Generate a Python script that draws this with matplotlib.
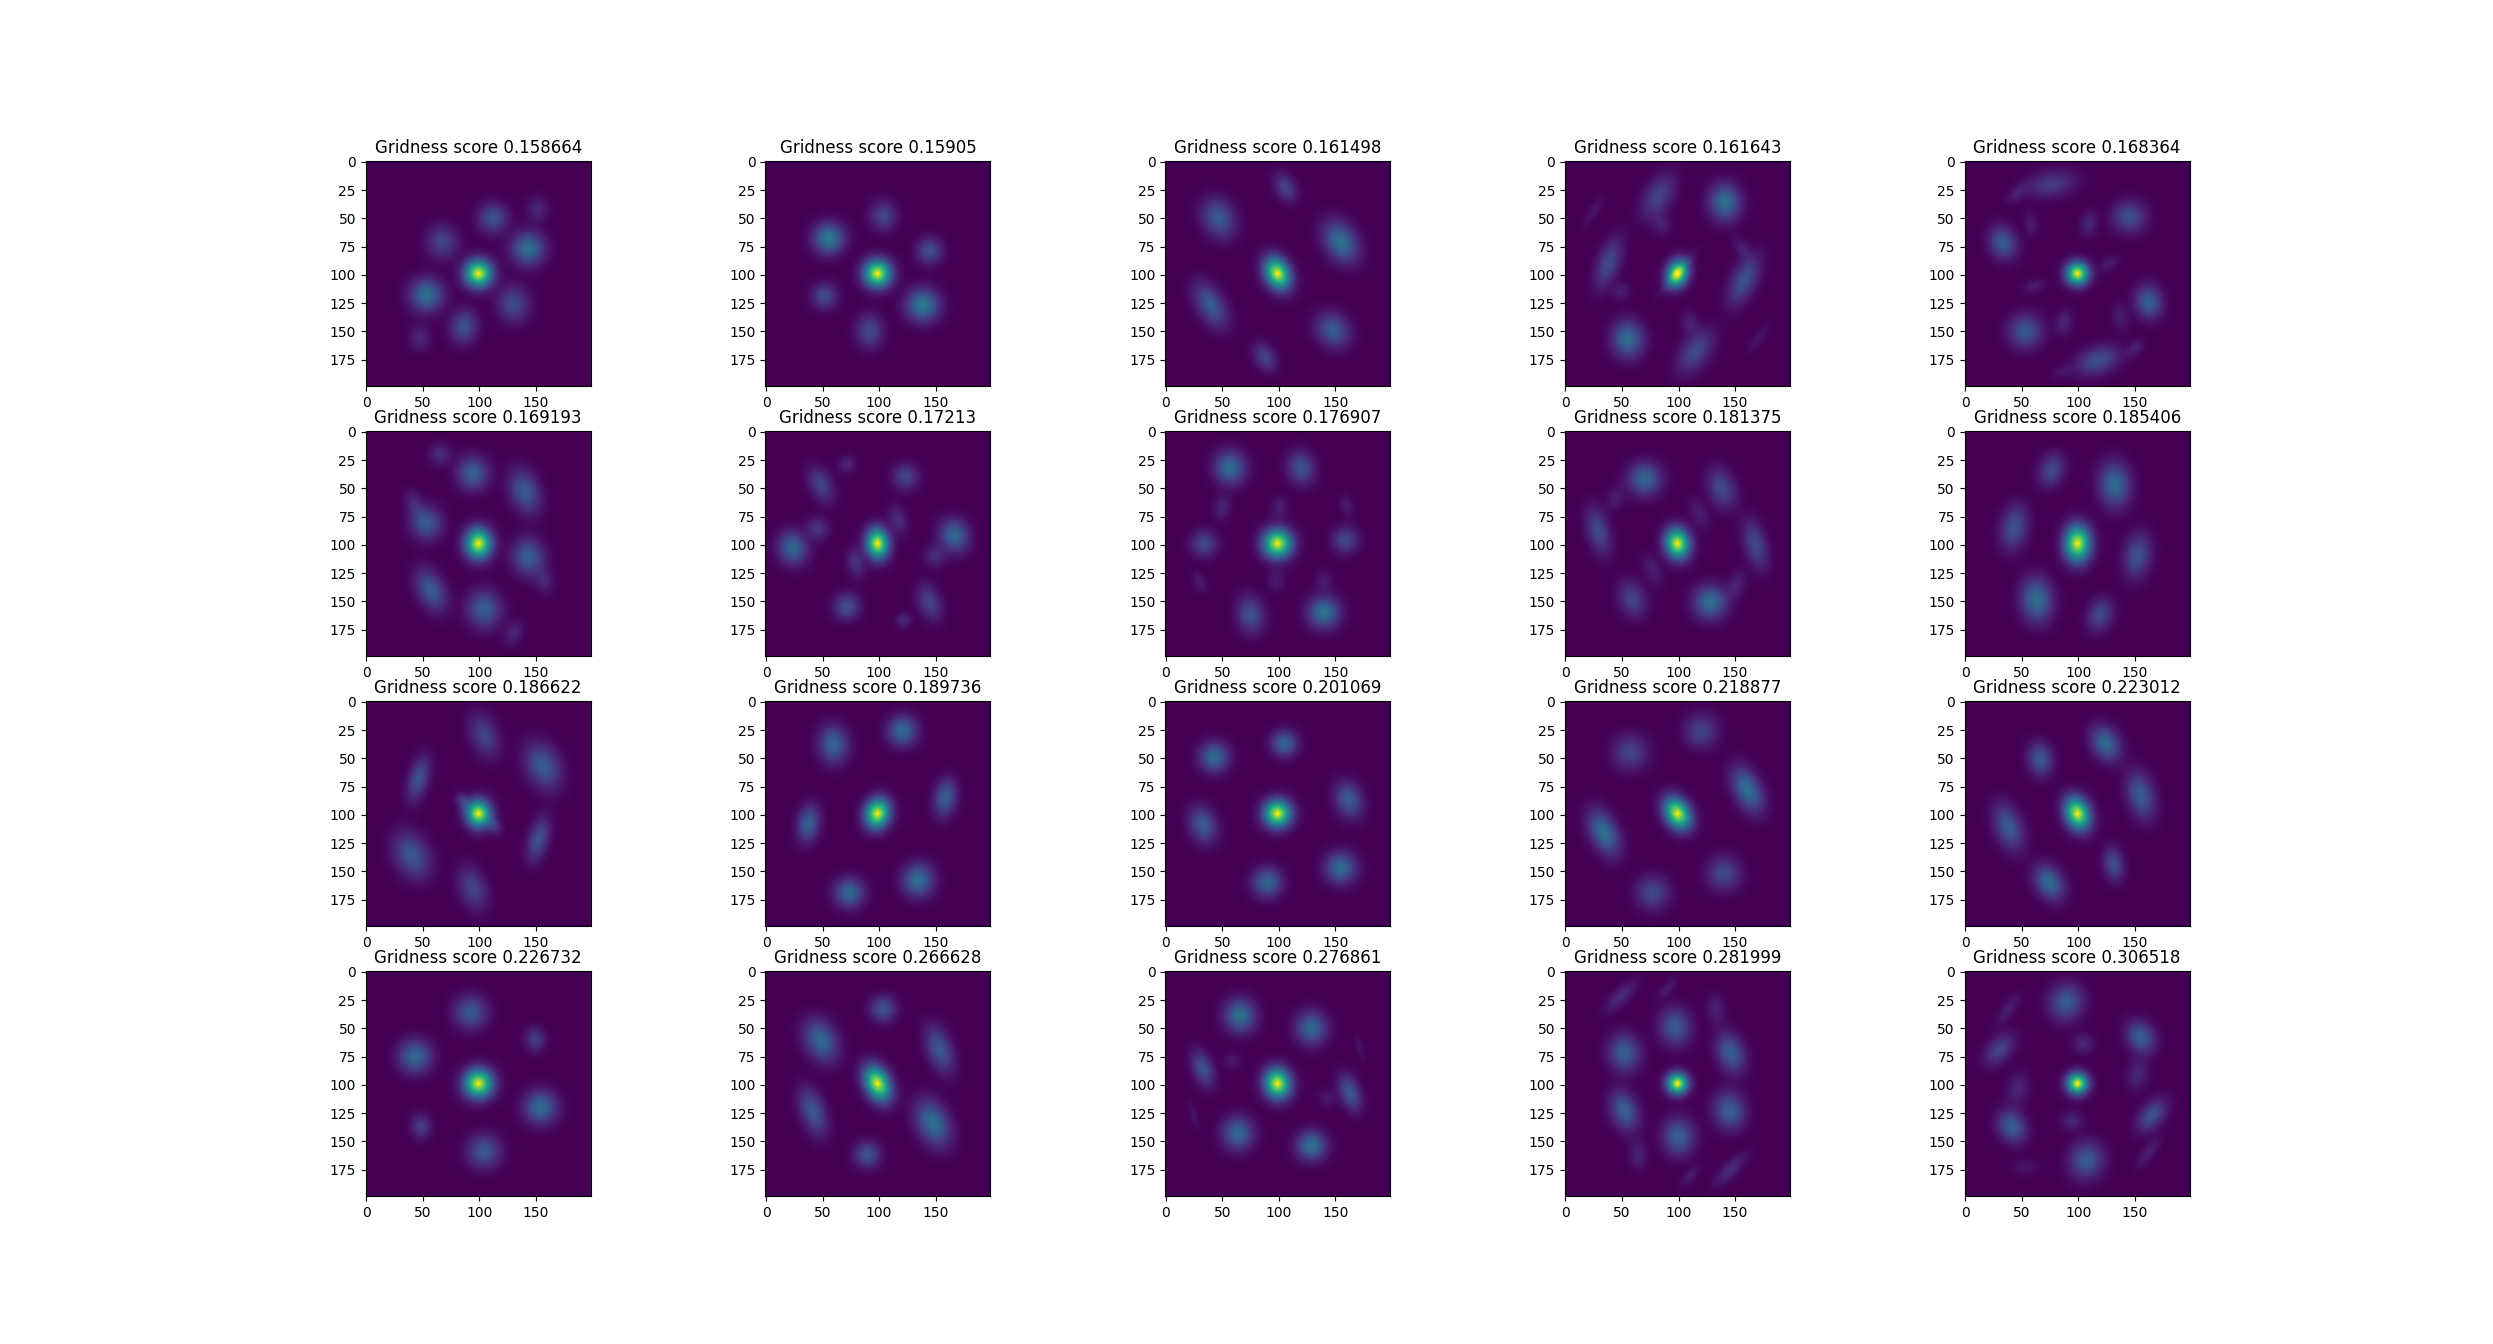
import matplotlib
matplotlib.use('Agg')
import matplotlib.pyplot as plt
import numpy as np

scores = ['0.158664', '0.15905', '0.161498', '0.161643', '0.168364',
          '0.169193', '0.17213', '0.176907', '0.181375', '0.185406',
          '0.186622', '0.189736', '0.201069', '0.218877', '0.223012',
          '0.226732', '0.266628', '0.276861', '0.281999', '0.306518']

# central peak of each panel: long sigma, short sigma, angle
centres = [(9, 8, 90), (9, 8.5, 90), (11, 7, 65), (9, 6, -70), (7.5, 7, 0),
           (10, 7.5, 90), (10, 6.5, 85), (9.5, 8.5, 90), (10, 7, 80), (12, 7.5, 90),
           (9, 7, 85), (10, 7, -75), (9, 8, 0), (11, 7, 60), (11, 7, 70),
           (9.5, 9, 90), (12, 7, 65), (10, 7.5, 80), (7, 6.5, 0), (7, 7, 0)]

# fields: x, y, height, long sigma, short sigma, angle
# angle counts from +x towards +y (image y points down)
p01 = [(112, 50, .25, 8, 7, 90), (151, 42, .1, 7, 5, 90), (67, 71, .2, 9, 7, 70), (143, 77, .36, 9, 8.5, 90),
       (53, 118, .36, 9, 8.5, 90), (130, 126, .22, 10, 7, 80), (86, 146, .25, 9, 6, -80), (47, 156, .1, 7, 5, 90)]
p02 = [(56, 68, .4, 8.5, 8, 90), (104, 48, .2, 8, 6, 90), (145, 79, .24, 7, 7, 0), (52, 119, .22, 7, 7, 0),
       (139, 127, .4, 9, 8, 90), (92, 150, .22, 9, 6, 90)]
p03 = [(106, 23, .2, 8, 4.5, 60), (47, 50, .28, 11, 7, 65), (40, 127, .28, 13, 6, 60), (88, 173, .2, 8, 4.5, 60),
       (155, 71, .36, 12, 7, 60), (148, 149, .28, 10, 7, 50)]
p04 = [(82, 31, .2, 13, 6, -60), (141, 36, .36, 10, 7, 85), (38, 90, .22, 14, 5, -70), (158, 105, .25, 14, 5.5, -65),
       (55, 157, .35, 10, 7, 85), (115, 168, .22, 13, 6, -55), (24, 45, .05, 10, 2.5, -55), (171, 156, .05, 10, 2.5, -55),
       (85, 56, .08, 6, 4, 80), (110, 143, .08, 7, 4, 80), (49, 115, .08, 5, 4, 0), (156, 77, .08, 7, 3, 60),
       (99, 99, .1, 14, 2, -50)]
p05 = [(76, 20, .17, 13, 6, -10), (46, 28, .08, 7, 3, -40), (145, 49, .24, 9, 7, 0), (109, 55, .1, 7, 4, -80),
       (33, 72, .28, 9, 6, 70), (58, 55, .07, 7, 3, 80), (162, 124, .3, 9, 6, 80), (53, 150, .27, 9, 8, 20),
       (87, 142, .1, 7, 4, -80), (117, 176, .24, 12, 6, -20), (150, 165, .08, 6, 3, -40), (86, 186, .05, 6, 3, -20),
       (137, 137, .07, 8, 4, 80), (61, 110, .08, 6, 3, -20), (127, 90, .07, 6, 3, -30)]
p06 = [(65, 20, .12, 6, 5, -60), (94, 37, .3, 9, 7, 80), (140, 53, .28, 12, 6.5, 70), (42, 64, .1, 8, 4, 70),
       (53, 81, .28, 9, 7, 70), (143, 111, .3, 10, 7, 80), (157, 132, .1, 7, 4, 80), (57, 140, .28, 12, 6, 65),
       (104, 157, .3, 10, 7.5, 80), (130, 178, .1, 7, 4, -60)]
p07 = [(72, 29, .1, 5, 4, 0), (49, 47, .2, 10, 5, 65), (124, 40, .2, 7, 7, 0), (46, 86, .15, 6, 6, 0),
       (24, 103, .33, 9, 6.5, 70), (117, 78, .12, 8, 4, 70), (167, 92, .33, 9, 6.5, 70), (150, 110, .12, 6, 5, 0),
       (80, 116, .14, 8, 4, 80), (72, 155, .24, 7, 6, -70), (145, 151, .2, 10, 5, 70), (122, 167, .12, 4, 4, 0)]
p08 = [(57, 32, .35, 9, 7, 80), (120, 32, .25, 9, 6, 75), (50, 67, .09, 7, 4, -80), (101, 67, .08, 6, 4, -85),
       (34, 99, .22, 7, 6, 90), (159, 96, .22, 7, 6, 90), (30, 133, .07, 6, 3, 70), (75, 162, .25, 10, 6, 80),
       (140, 160, .38, 8.5, 8, 90), (98, 132, .07, 6, 4, 90), (140, 132, .07, 6, 4, 90), (160, 66, .07, 6, 3, 70)]
p09 = [(70, 42, .32, 9, 7.5, 80), (138, 50, .22, 11, 6, 70), (44, 59, .07, 7, 4, -70), (118, 72, .08, 9, 4, 65),
       (29, 88, .22, 13, 5, 75), (168, 100, .22, 13, 5, 75), (77, 122, .08, 9, 4, 65), (59, 148, .2, 10, 6, 70),
       (128, 151, .36, 9, 7.5, 80), (151, 135, .09, 8, 4, -70)]
p10 = [(76, 34, .22, 9, 5.5, -70), (132, 47, .34, 12, 7, 85), (43, 85, .25, 12, 6, -80), (152, 110, .25, 12, 6, -80),
       (63, 149, .36, 12, 7, 85), (119, 162, .22, 9, 5.5, -70)]
p11 = [(104, 30, .2, 12, 6, 70), (156, 57, .28, 13, 7.5, 65), (46, 68, .25, 12, 4.5, -75), (152, 122, .25, 12, 4.5, -75),
       (40, 136, .27, 13, 7.5, 65), (94, 165, .2, 12, 6, 70), (85, 88, .14, 5, 3, 60), (113, 110, .14, 5, 3, 60)]
p12 = [(60, 38, .32, 10, 6.5, 85), (121, 26, .34, 8, 7, -45), (159, 85, .3, 10, 5, -80), (38, 108, .3, 10, 5, -80),
       (135, 158, .36, 9, 7, -80), (74, 169, .33, 8, 7, -45)]
p13 = [(43, 49, .34, 8, 8, 0), (105, 37, .32, 7, 7, 0), (33, 109, .28, 10, 6, 70), (90, 160, .32, 8, 7, 90),
       (162, 87, .28, 10, 6, 70), (155, 147, .34, 8.5, 8, 0)]
p14 = [(120, 26, .2, 9, 8, 0), (57, 45, .2, 9.5, 9, 0), (161, 78, .36, 13, 6, 65), (34, 116, .36, 13, 6, 65),
       (140, 152, .22, 9, 8, 90), (77, 169, .22, 9, 8, 0)]
p15 = [(124, 37, .34, 10, 6, 60), (66, 51, .27, 9, 5.5, 80), (155, 83, .28, 13, 6, 75), (38, 111, .28, 13, 6, 70),
       (131, 144, .24, 9, 4.5, 80), (74, 160, .34, 10, 6, 60)]
p16 = [(92, 36, .27, 9, 8, -70), (149, 60, .18, 6.5, 4.5, 85), (43, 75, .33, 9, 8, -70), (154, 120, .34, 9, 8, -80),
       (48, 137, .18, 6.5, 4.5, 85), (104, 159, .27, 9, 8, -70)]
p17 = [(104, 33, .25, 7, 6.5, 0), (49, 61, .33, 12, 7, 65), (154, 69, .27, 13, 5.5, 70), (42, 124, .27, 13, 5.5, 70),
       (148, 134, .36, 13, 7, 65), (90, 162, .25, 7, 6.5, 0)]
p18 = [(66, 39, .36, 9, 7, 80), (129, 50, .33, 9, 7, 80), (33, 86, .25, 10, 4.5, 70), (64, 143, .33, 9, 7, 80),
       (129, 154, .37, 8, 8, 0), (163, 107, .27, 10, 4.5, 70), (59, 79, .06, 5, 4, 0), (143, 112, .06, 5, 4, 0),
       (25, 127, .05, 7, 2, 75), (172, 67, .04, 7, 2, 75)]
p19 = [(49, 22, .12, 11, 3.5, -45), (90, 15, .07, 7, 2.5, -50), (97, 49, .28, 10, 7, 85), (133, 33, .09, 8, 4, 85),
       (52, 72, .3, 10, 7, 80), (146, 72, .3, 11, 6, 70), (52, 123, .3, 11, 6, 70), (145, 123, .3, 10, 7, 80),
       (100, 146, .3, 10, 7, 85), (64, 162, .09, 8, 4, 85), (146, 175, .12, 11, 3.5, -45), (110, 181, .07, 7, 2.5, -50)]
p20 = [(89, 27, .28, 10, 7.5, -70), (38, 33, .08, 10, 3, -55), (155, 58, .3, 9, 6, 60), (30, 69, .2, 10, 5, -50),
       (104, 64, .1, 6, 4.5, 0), (152, 91, .1, 9, 5, -80), (46, 104, .1, 9, 5, -80), (165, 127, .25, 10, 5, -50),
       (94, 132, .1, 6, 4.5, 0), (41, 137, .3, 9, 6, 60), (107, 167, .28, 10, 7.5, -70), (162, 160, .08, 10, 3, -55),
       (53, 173, .05, 7, 4, 0)]

panels = [p01, p02, p03, p04, p05, p06, p07, p08, p09, p10,
          p11, p12, p13, p14, p15, p16, p17, p18, p19, p20]

yy, xx = np.mgrid[0:199, 0:199]


def bump(x, y, h, s1, s2, ang):
    a = np.deg2rad(ang)
    u = (xx - x) * np.cos(a) + (yy - y) * np.sin(a)
    v = -(xx - x) * np.sin(a) + (yy - y) * np.cos(a)
    return h * np.exp(-0.5 * (u / s1) ** 2 - 0.5 * (v / s2) ** 2)


def panel_image(fields, centre):
    s1, s2, ang = centre
    # short axis never ends up wider than the long one
    img = bump(99, 99, 0.86, s1 * 0.92, min(s2 * 1.05, s1 * 0.92), ang)
    img = img + bump(99, 99, 0.14, 1.8, 1.8, 0)
    for x, y, h, f1, f2, fang in fields:
        img = img + bump(x, y, h, f1 * 1.08, min(f2 * 1.3, f1 * 1.08), fang)
    return img


fig, axes = plt.subplots(4, 5, figsize=(24.93, 13.44), dpi=100)
for ax, score, fields, centre in zip(axes.flat, scores, panels, centres):
    ax.imshow(panel_image(fields, centre), cmap='viridis', vmin=0, vmax=1)
    ax.set_title('Gridness score ' + score)

fig.savefig('out.png', dpi=100)
